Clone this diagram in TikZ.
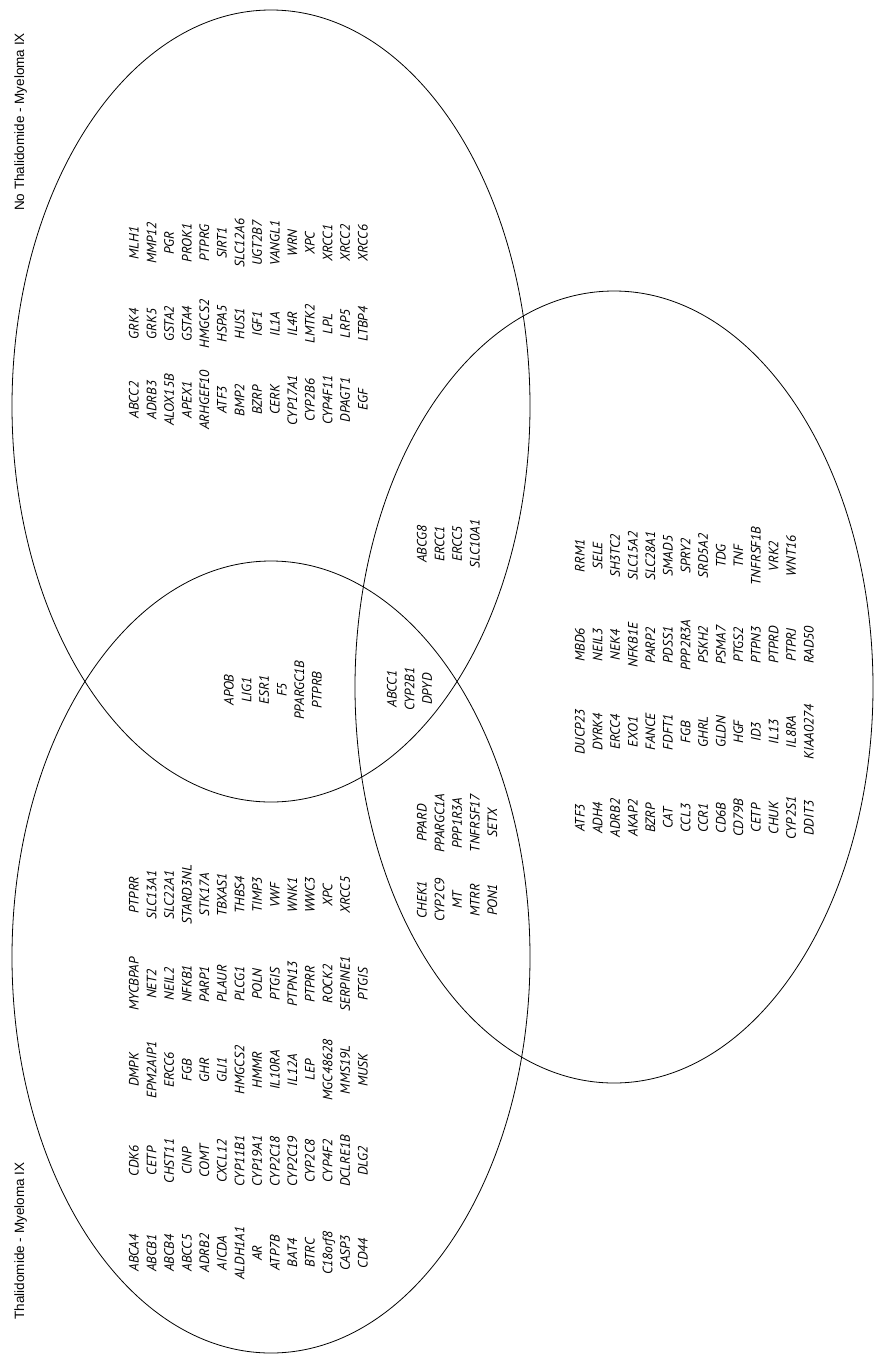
\documentclass[tikz,border=0pt]{standalone}
\usepackage{fontspec}
\newfontfamily\genefont{PT Sans}
\newfontfamily\labelsans{Liberation Sans}
\usepackage{tikz}

\tikzset{
  venn/.style={line width=0.8pt, black},
  gene/.style={font=\genefont\itshape\fontsize{13.6}{15}\selectfont, rotate=90, anchor=base, inner sep=0pt},
  setname/.style={font=\labelsans\fontsize{13.5}{16}\selectfont, rotate=90, anchor=base, inner sep=0pt}
}

% one column of gene names: node prefix, x of first line, y centre, list
\newcommand{\genecol}[4]{%
  \foreach \g [count=\i from 0] in {#4} {
    \node[gene] (#1-\i) at ({#2+4.7+17.6*\i},#3) {\g};
  }
}

\begin{document}
\begin{tikzpicture}[x=1pt,y=-1pt]
\useasboundingbox (0,0) rectangle (875,1358);

% the three sets
\draw[venn] (271,406) ellipse [x radius=259pt, y radius=396pt];
\draw[venn] (271,957) ellipse [x radius=259pt, y radius=396pt];
\draw[venn] (614,687) ellipse [x radius=259pt, y radius=396pt];

% set names
\node[setname] (nothal) at (24,122) {No Thalidomide - Myeloma IX};
\node[setname] (thal) at (24,1241) {Thalidomide - Myeloma IX};

% no thalidomide only
\genecol{nta}{134}{400}{ABCC2,ADRB3,ALOX15B,APEX1,ARHGEF10,ATF3,BMP2,BZRP,CERK,CYP17A1,CYP2B6,CYP4F11,DPAGT1,EGF}
\genecol{ntb}{134}{324}{GRK4,GRK5,GSTA2,GSTA4,HMGCS2,HSPA5,HUS1,IGF1,IL1A,IL4R,LMTK2,LPL,LRP5,LTBP4}
\genecol{ntc}{134}{243}{MLH1,MMP12,PGR,PROK1,PTPRG,SIRT1,SLC12A6,UGT2B7,VANGL1,WRN,XPC,XRCC1,XRCC2,XRCC6}

% overlaps
\genecol{ntr}{422}{544}{ABCG8,ERCC1,ERCC5,SLC10A1}
\genecol{ntt}{229}{690}{APOB,LIG1,ESR1,F5,PPARGC1B,PTPRB}
\genecol{all}{392}{689}{ABCC1,CYP2B1,DPYD}
\genecol{tra}{422}{823}{PPARD,PPARGC1A,PPP1R3A,TNFRSF17,SETX}
\genecol{trb}{422}{900}{CHEK1,CYP2C9,MT,MTRR,PON1}

% thalidomide only
\genecol{tha}{134}{1253}{ABCA4,ABCB1,ABCB4,ABCC5,ADRB2,AICDA,ALDH1A1,AR,ATP7B,BAT4,BTRC,C18orf8,CASP3,CD44}
\genecol{thb}{134}{1161}{CDK6,CETP,CHST11,CINP,COMT,CXCL12,CYP11B1,CYP19A1,CYP2C18,CYP2C19,CYP2C8,CYP4F2,DCLRE1B,DLG2}
\genecol{thc}{134}{1070}{DMPK,EPM2AIP1,ERCC6,FGB,GHR,GLI1,HMGCS2,HMMR,IL10RA,IL12A,LEP,MGC48628,MMS19L,MUSK}
\genecol{thd}{134}{984}{MYCBPAP,NET2,NEIL2,NFKB1,PARP1,PLAUR,PLCG1,POLN,PTGIS,PTPN13,PTPRR,ROCK2,SERPINE1,PTGIS}
\genecol{the}{134}{895}{PTPRR,SLC13A1,SLC22A1,STARD3NL,STK17A,TBXAS1,THBS4,TIMP3,VWF,WNK1,WWC3,XPC,XRCC5}

% third set only
\genecol{rta}{580}{818}{ATF3,ADH4,ADRB2,AKAP2,BZRP,CAT,CCL3,CCR1,CD6B,CD79B,CETP,CHUK,CYP2S1,DDIT3}
\genecol{rtb}{580}{732}{DUCP23,DYRK4,ERCC4,EXO1,FANCE,FDFT1,FGB,GHRL,GLDN,HGF,ID3,IL13,IL8RA,KIAA0274}
\genecol{rtc}{580}{645}{MBD6,NEIL3,NEK4,NFKB1E,PARP2,PDSS1,PPP2R3A,PSKH2,PSMA7,PTGS2,PTPN3,PTPRD,PTPRJ,RAD50}
\genecol{rtd}{580}{556}{RRM1,SELE,SH3TC2,SLC15A2,SLC28A1,SMAD5,SPRY2,SRD5A2,TDG,TNF,TNFRSF1B,VRK2,WNT16}

\end{tikzpicture}
\end{document}
